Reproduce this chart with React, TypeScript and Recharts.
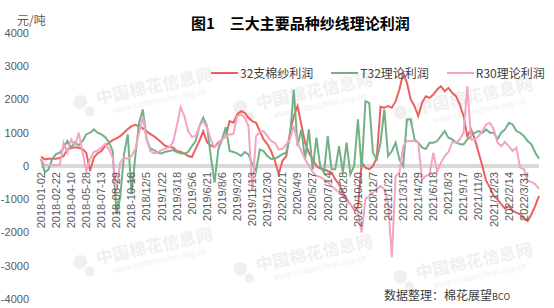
import React from "react";
import { LineChart, Line, XAxis, YAxis, CartesianGrid } from "recharts";

const DATE_LABELS = [
    "2018-01-02", "2018-02-22", "2018-04-10", "2018-05-28", "2018-07-13", "2018-08-29", "2018-10-16",
    "2018/12/5", "2019/1/22", "2019/3/18", "2019/5/6", "2019/6/21", "2019/8/6", "2019/9/23",
    "2019/11/13", "2019/12/30", "2020/2/21", "2020/4/9", "2020/5/27", "2020/7/14", "2020/8/28",
    "2020/10/20", "2020/12/7", "2021/1/22", "2021/3/15", "2021/4/29", "2021/6/18", "2021/8/3",
    "2021/9/17", "2021/11/9", "2021/12/23", "2022/2/14", "2022/3/31",
];

// samples per labelled step on the x axis
const STEP = 4;

const YARN_32 = [
    280, 200, 220, 220, 220, 240, 300, 500, 540, 560, 550, 510, 400, -150, 250, 380, 450, 600, 700, 780,
    830, 900, 1000, 1110, 1200, 1240, 1200, 1130, 1040, 960, 890, 800, 700, 600, 570, 560, 450, 420, 380, 300,
    270, 520, 760, 1050, 720, 620, 570, 700, 800, 900, 1350, 1300, 1550, 1650, 1600, 1450, 1350, 1300, 1050, 800,
    660, 450, 150, -250, 150, 300, 1000, 1500, 1800, 1250, 700, 400, 200, 0, -80, -100, -150, -200, -400, -550,
    -800, -1000, -1150, -1300, -1250, 100, -50, -100, 0, 250, 1780, 1750, 1800, 1750, 1950, 2300, 2800, 2500, 2000, 1800,
    1500, 1900, 2100, 2050, 2150, 2300, 2400, 2250, 2350, 2200, 2100, 1850, 1500, 900, 1100, 800, 400, 0, -450, -650,
    -900, -1000, -1150, -1280, -1200, -1350, -1400, -1450, -1600, -1650, -1450, -1200, -900,
];

const T32 = [
    210, -190, -100, 210, 360, 400, 540, 750, 560, 720, 620, 750, 950, 1000, 1100, 1000, 950, 870, 720, 450,
    -1450, -950, 350, 950, -850, 300, 1300, 1700, 800, 520, 480, 400, 380, 430, 450, 480, 420, 380, 370, 420,
    600, 750, 1200, 1450, 1200, 300, -500, 500, 800, 1170, 450, 420, 380, 300, 420, 350, 50, -150, 500, 450,
    300, 210, 220, 280, 360, 400, 900, 2300, 600, 1100, 200, 1100, -100, 850, 0, -200, 900, -100, -100, 600,
    -200, 700, -250, 0, 1400, -100, 1950, 1900, 400, 200, 700, 1700, 300, 450, 700, 200, 0, 1400, 1400, 800,
    700, 560, 510, 700, 700, 750, 900, 1050, 850, 800, 700, 660, 650, 800, 900, 1000, 1050, 1000, 1100, 1000,
    1000, 810, 1000, 1100, 1300, 1250, 1050, 1000, 900, 750, 650, 400, 220,
];

const R30 = [
    210, 30, 30, 30, 30, 40, 700, 400, 800, 600, 1000, 420, -150, 200, 420, 470, 550, 660, 500, 250,
    -750, 100, 250, 220, 300, 500, 1000, 1470, 800, 450, 380, 420, 480, 530, 560, 720, 1200, 1770, 1500, 1050,
    880, 900, 1200, 1350, 1150, 800, 570, 650, 810, 900, 950, 960, 1500, 1550, 1450, 1200, -750, 900, 1020, 1050,
    900, 750, 700, 500, 520, 650, 800, 1200, 700, 450, 200, 20, -180, -300, -330, -400, -480, -600, -700, -800,
    -900, -1050, -1150, -1250, -1400, -2000, -1000, -900, -800, -700, -600, -700, -1100, -2750, -300, -200, 600, 750, 750, 750,
    700, -400, -300, -250, 400, -180, 100, 300, 420, 720, 700, 800, 1000, 2400, 800, 800, 900, 1050, 1250, 1300,
    1100, 700, 600, 720, 600, 450, 550, -50, -100, -450, -480, -550, -690,
];

const Y_TICKS = [-4000, -3000, -2000, -1000, 0, 1000, 2000, 3000, 4000];

const SERIES = [
    { key: "yarn32", name: "32支棉纱利润", color: "#EB625C" },
    { key: "t32", name: "T32理论利润", color: "#72B187" },
    { key: "r30", name: "R30理论利润", color: "#F5A3C3" },
];

const data = YARN_32.map((v, i) => ({ i, yarn32: v, t32: T32[i], r30: R30[i] }));
const xTicks = DATE_LABELS.map((_, k) => k * STEP);

const W = 554;
const H = 308;
const PLOT_TOP = 33;
const PLOT_BOTTOM = 299;
const ZERO_Y = (PLOT_TOP + PLOT_BOTTOM) / 2;

const CJK = '"Noto Sans CJK SC", "Noto Sans", sans-serif';
const LATIN = '"Liberation Sans", "Noto Sans CJK SC", sans-serif';

const DateTick = (props: any) => {
    const { x, payload } = props;
    const y = ZERO_Y + 6;
    return (
        <text
            x={x}
            y={y}
            dy="0.35em"
            transform={`rotate(-90, ${x}, ${y})`}
            textAnchor="end"
            fontSize={11}
            fontFamily={LATIN}
            fill="#595959"
        >
            {DATE_LABELS[Math.round(payload.value / STEP)]}
        </text>
    );
};

const LegendRow = () => (
    <div
        style={{
            position: "absolute", left: 211, top: 64, display: "flex", alignItems: "center", whiteSpace: "nowrap",
            fontFamily: CJK, fontSize: 12, color: "#404040", lineHeight: "18px",
        }}
    >
        {SERIES.map((s) => (
            <div key={s.key} style={{ display: "flex", alignItems: "center", marginRight: 18 }}>
                <span style={{ display: "inline-block", width: 27, height: 2, background: s.color, marginRight: 2 }} />
                <span>{s.name}</span>
            </div>
        ))}
    </div>
);

const WATERMARKS = [
    [132, 95], [292, 100], [452, 105],
    [132, 255], [292, 262], [452, 270],
];

const Watermark = () => (
    <svg width={W} height={H} style={{ position: "absolute", left: 0, top: 0 }}>
        {WATERMARKS.map(([cx, cy], k) => (
            <g key={k} transform={`rotate(-12, ${cx}, ${cy})`} fill="#f0f0f0">
                <circle cx={cx - 52} cy={cy - 4} r={7} />
                <circle cx={cx - 45} cy={cy + 7} r={5} />
                <text x={cx - 36} y={cy + 2} fontSize={17} fontWeight="bold" fontFamily={CJK}>中国棉花信息网</text>
                <text x={cx - 22} y={cy + 14} fontSize={9} fontFamily={LATIN}>www.cottonchina.org.cn</text>
            </g>
        ))}
    </svg>
);

const App: React.FC = () => {
    return (
        <div style={{ position: "absolute", left: 0, top: 0, width: W, height: H, background: "#fff" }}>
            <Watermark />
            <div style={{ position: "absolute", left: 0, top: 0 }}>
                <LineChart width={W} height={H} data={data} margin={{ top: PLOT_TOP, right: 15, left: 0, bottom: 8 }}>
                    <CartesianGrid horizontal vertical={false} horizontalValues={[0]} stroke="#d9d9d9" strokeWidth={4} />
                    <XAxis
                        dataKey="i"
                        type="number"
                        domain={[0, YARN_32.length - 1]}
                        ticks={xTicks}
                        interval={0}
                        height={1}
                        axisLine={false}
                        tickLine={false}
                        tick={<DateTick />}
                    />
                    <YAxis
                        width={41}
                        domain={[-4000, 4000]}
                        ticks={Y_TICKS}
                        axisLine={false}
                        tickLine={false}
                        tickSize={0}
                        tickMargin={12}
                        tick={{ fontSize: 11, fill: "#595959", fontFamily: LATIN }}
                    />
                    {SERIES.map((s) => (
                        <Line
                            key={s.key}
                            type="linear"
                            dataKey={s.key}
                            name={s.name}
                            stroke={s.color}
                            strokeWidth={2}
                            dot={false}
                            isAnimationActive={false}
                        />
                    ))}
                </LineChart>
            </div>
            <LegendRow />
            <div style={{ position: "absolute", left: 17, top: 12, fontFamily: CJK, fontSize: 12, color: "#595959", lineHeight: "16px" }}>
                元/吨
            </div>
            <div style={{ position: "absolute", left: 191, top: 13, fontFamily: CJK, fontSize: 15, fontWeight: "bold", color: "#000", lineHeight: "20px", whiteSpace: "pre" }}>
                图1　三大主要品种纱线理论利润
            </div>
            <div style={{ position: "absolute", left: 384, top: 287, fontFamily: CJK, fontSize: 12, color: "#404040", lineHeight: "16px", whiteSpace: "nowrap" }}>
                数据整理：棉花展望<span style={{ fontSize: 9 }}>BCO</span>
            </div>
        </div>
    );
};

export default App;
